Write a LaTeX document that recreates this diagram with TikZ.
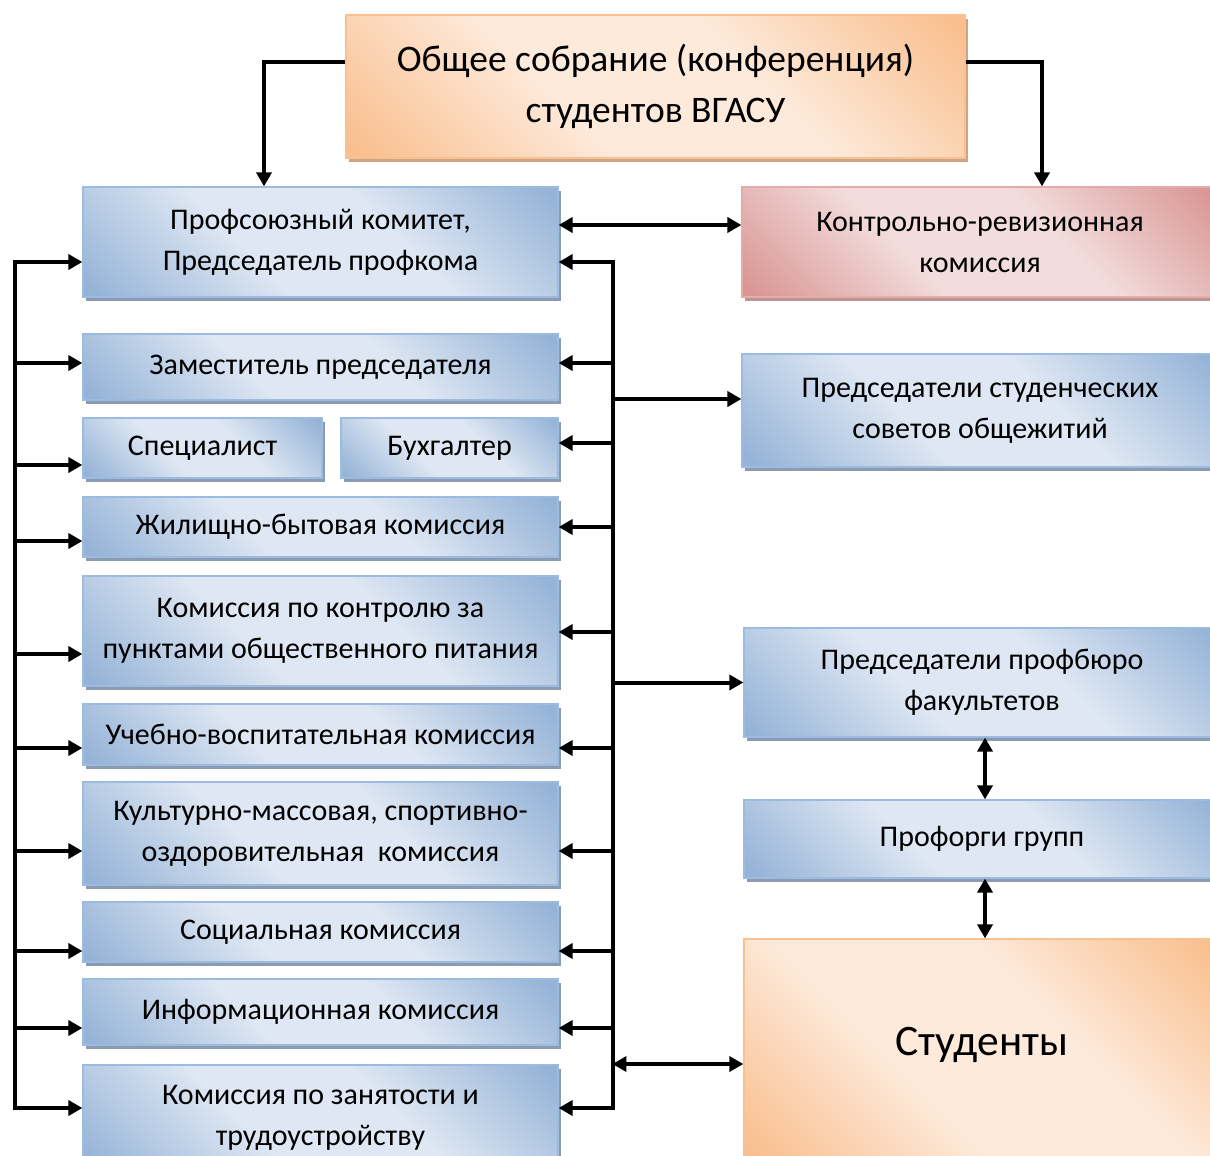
\documentclass[tikz,border=0pt]{standalone}
\usepackage{fontspec}
\setmainfont{Carlito}
\usetikzlibrary{arrows.meta,shadows,calc}

\definecolor{bluelight}{RGB}{222,231,243}
\definecolor{bluedark}{RGB}{149,179,215}
\definecolor{blueline}{RGB}{155,187,225}
\definecolor{blueshadow}{RGB}{141,155,176}
\definecolor{orlight}{RGB}{253,234,219}
\definecolor{ordark}{RGB}{249,191,142}
\definecolor{orline}{RGB}{250,192,144}
\definecolor{orshadow}{RGB}{205,165,130}
\definecolor{pklight}{RGB}{242,221,220}
\definecolor{pkdark}{RGB}{217,150,148}
\definecolor{pkline}{RGB}{230,170,168}
\definecolor{pkshadow}{RGB}{185,150,150}

\pgfdeclarehorizontalshading{bluegrad}{100bp}{color(0bp)=(bluedark); color(16bp)=(bluedark); color(40bp)=(bluelight); color(60bp)=(bluelight); color(84bp)=(bluedark); color(100bp)=(bluedark)}
\pgfdeclarehorizontalshading{orgrad}{100bp}{color(0bp)=(ordark); color(16bp)=(ordark); color(40bp)=(orlight); color(60bp)=(orlight); color(84bp)=(ordark); color(100bp)=(ordark)}
\pgfdeclarehorizontalshading{pkgrad}{100bp}{color(0bp)=(pkdark); color(16bp)=(pkdark); color(40bp)=(pklight); color(60bp)=(pklight); color(84bp)=(pkdark); color(100bp)=(pkdark)}

\tikzset{
  box/.style={rectangle, draw=blueline, line width=1.2pt, shading=bluegrad, shading angle=45,
    drop shadow={shadow xshift=3pt, shadow yshift=-4pt, fill=blueshadow, opacity=1},
    align=center, inner sep=2pt, font=\fontsize{30}{41}\selectfont},
  orbox/.style={box, draw=orline, shading=orgrad,
    drop shadow={shadow xshift=3pt, shadow yshift=-4pt, fill=orshadow, opacity=1}},
  pkbox/.style={box, draw=pkline, shading=pkgrad,
    drop shadow={shadow xshift=3pt, shadow yshift=-4pt, fill=pkshadow, opacity=1}},
  arr/.style={-{Triangle[length=14pt,width=15pt]}, line width=4pt},
  dbl/.style={{Triangle[length=14pt,width=15pt]}-{Triangle[length=14pt,width=15pt]}, line width=4pt},
  bus/.style={line width=4pt, line cap=rect}
}

\begin{document}
\begin{tikzpicture}[x=1pt,y=-1pt]
  \useasboundingbox (0,0) rectangle (1210,1156);
  \clip (0,0) rectangle (1210,1156);

  \node[orbox, minimum width=619pt, minimum height=143pt, font=\fontsize{37.5}{51}\selectfont] (top) at (655.5,86.5) {Общее собрание (конференция)\\студентов ВГАСУ};

  \node[box, minimum width=475pt, minimum height=110pt] (prof) at (320.5,242) {Профсоюзный комитет,\\Председатель профкома};
  \node[box, minimum width=475pt, minimum height=66pt] (zam) at (320.5,367) {Заместитель председателя};
  \node[box, minimum width=239pt, minimum height=60pt] (spec) at (202.5,448) {Специалист};
  \node[box, minimum width=217pt, minimum height=60pt] (buh) at (449.5,448) {Бухгалтер};
  \node[box, minimum width=475pt, minimum height=60pt] (zhil) at (320.5,527) {Жилищно-бытовая комиссия};
  \node[box, minimum width=475pt, minimum height=110pt] (pit) at (320.5,631) {Комиссия по контролю за\\пунктами общественного питания};
  \node[box, minimum width=475pt, minimum height=61pt] (ucheb) at (320.5,734.5) {Учебно-воспитательная комиссия};
  \node[box, minimum width=475pt, minimum height=103pt] (kult) at (320.5,833.5) {Культурно-массовая, спортивно-\\оздоровительная\ \ комиссия};
  \node[box, minimum width=475pt, minimum height=60pt] (soc) at (320.5,932) {Социальная комиссия};
  \node[box, minimum width=475pt, minimum height=66pt] (inf) at (320.5,1012) {Информационная комиссия};
  \node[box, minimum width=475pt, minimum height=106pt] (zan) at (320.5,1118) {Комиссия по занятости и\\трудоустройству};

  \node[pkbox, minimum width=476pt, minimum height=110pt] (krk) at (980,242) {Контрольно-ревизионная\\комиссия};
  \node[box, minimum width=476pt, minimum height=113pt] (sov) at (980,410.5) {Председатели студенческих\\советов общежитий};
  \node[box, minimum width=476pt, minimum height=109pt] (bur) at (982,682.5) {Председатели профбюро\\факультетов};
  \node[box, minimum width=476pt, minimum height=78pt] (prf) at (982,839) {Профорги групп};
  \node[orbox, minimum width=476pt, minimum height=221pt, text depth=17pt, font=\fontsize{43.5}{50}\selectfont] (stud) at (982,1049.5) {Студенты};

  \coordinate (ltop) at (15,262);
  \coordinate (lbot) at (15,1108);
  \coordinate (rtop) at (613,262);
  \coordinate (rbot) at (613,1108);

  \draw[arr] ($(top.west)+(0,-24.5)$) -| ($(prof.north)+(-56.5,0)$);
  \draw[arr] ($(top.east)+(0,-24.5)$) -| ($(krk.north)+(62,0)$);
  \draw[dbl] ($(prof.east)+(0,-17)$) -- ($(krk.west)+(0,-17)$);

  \draw[bus] (ltop) -- (lbot);
  \draw[bus] (rtop) -- (rbot);

  \draw[arr] (ltop) -- ($(prof.west)+(0,20)$);
  \draw[arr] ($(zam.west)+(-68,-4)$) -- ($(zam.west)+(0,-4)$);
  \draw[arr] ($(spec.west)+(-68,17)$) -- ($(spec.west)+(0,17)$);
  \draw[arr] ($(zhil.west)+(-68,14)$) -- ($(zhil.west)+(0,14)$);
  \draw[arr] ($(pit.west)+(-68,23)$) -- ($(pit.west)+(0,23)$);
  \draw[arr] ($(ucheb.west)+(-68,13.5)$) -- ($(ucheb.west)+(0,13.5)$);
  \draw[arr] ($(kult.west)+(-68,17.5)$) -- ($(kult.west)+(0,17.5)$);
  \draw[arr] ($(soc.west)+(-68,19)$) -- ($(soc.west)+(0,19)$);
  \draw[arr] ($(inf.west)+(-68,16)$) -- ($(inf.west)+(0,16)$);
  \draw[arr] (lbot) -- ($(zan.west)+(0,-10)$);

  \draw[arr] (rtop) -- ($(prof.east)+(0,20)$);
  \draw[arr] ($(zam.east)+(55,-4)$) -- ($(zam.east)+(0,-4)$);
  \draw[arr] ($(buh.east)+(55,-5)$) -- ($(buh.east)+(0,-5)$);
  \draw[arr] ($(zhil.east)+(55,0)$) -- (zhil.east);
  \draw[arr] ($(pit.east)+(55,1)$) -- ($(pit.east)+(0,1)$);
  \draw[arr] ($(ucheb.east)+(55,13.5)$) -- ($(ucheb.east)+(0,13.5)$);
  \draw[arr] ($(kult.east)+(55,17.5)$) -- ($(kult.east)+(0,17.5)$);
  \draw[arr] ($(soc.east)+(55,19)$) -- ($(soc.east)+(0,19)$);
  \draw[arr] ($(inf.east)+(55,16)$) -- ($(inf.east)+(0,16)$);
  \draw[arr] (rbot) -- ($(zan.east)+(0,-10)$);

  \draw[arr] ($(sov.west)+(-129,-11.5)$) -- ($(sov.west)+(0,-11.5)$);
  \draw[arr] (bur.west -| rtop) -- (bur.west);
  \draw[dbl] ($(stud.west)+(-131,14.5)$) -- ($(stud.west)+(0,14.5)$);

  \draw[dbl] ($(bur.south)+(3,0)$) -- ($(prf.north)+(3,0)$);
  \draw[dbl] ($(prf.south)+(3,0)$) -- ($(stud.north)+(3,0)$);
\end{tikzpicture}
\end{document}
